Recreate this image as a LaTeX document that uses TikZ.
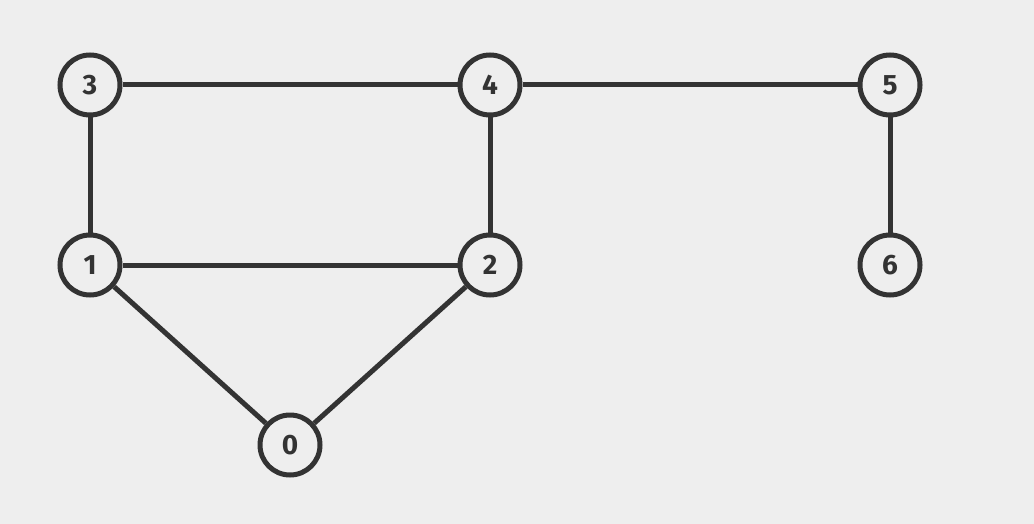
\documentclass[tikz,border=0pt]{standalone}
\usepackage{fontspec}
\setmainfont{Fira Sans}
\definecolor{bg}{HTML}{EEEEEE}
\definecolor{ink}{HTML}{333333}
\begin{document}
\begin{tikzpicture}[x=0.75pt,y=-0.75pt,
  vert/.style={circle,draw=ink,line width=3.75pt,fill=bg,minimum size=45pt,inner sep=0pt,
    font=\fontsize{21}{24}\selectfont\bfseries,text=ink},
  edge/.style={draw=ink,line width=3.75pt}]
\fill[bg] (0,0) rectangle (1034,524);
\useasboundingbox (0,0) rectangle (1034,524);
\node[vert] (n3) at (90,85) {3};
\node[vert] (n4) at (490,85) {4};
\node[vert] (n5) at (890,85) {5};
\node[vert] (n1) at (90,265) {1};
\node[vert] (n2) at (490,265) {2};
\node[vert] (n6) at (890,265) {6};
\node[vert] (n0) at (290,445) {0};
\draw[edge] (n3) -- (n4);
\draw[edge] (n4) -- (n5);
\draw[edge] (n3) -- (n1);
\draw[edge] (n4) -- (n2);
\draw[edge] (n5) -- (n6);
\draw[edge] (n1) -- (n2);
\draw[edge] (n1) -- (n0);
\draw[edge] (n2) -- (n0);
\end{tikzpicture}
\end{document}
